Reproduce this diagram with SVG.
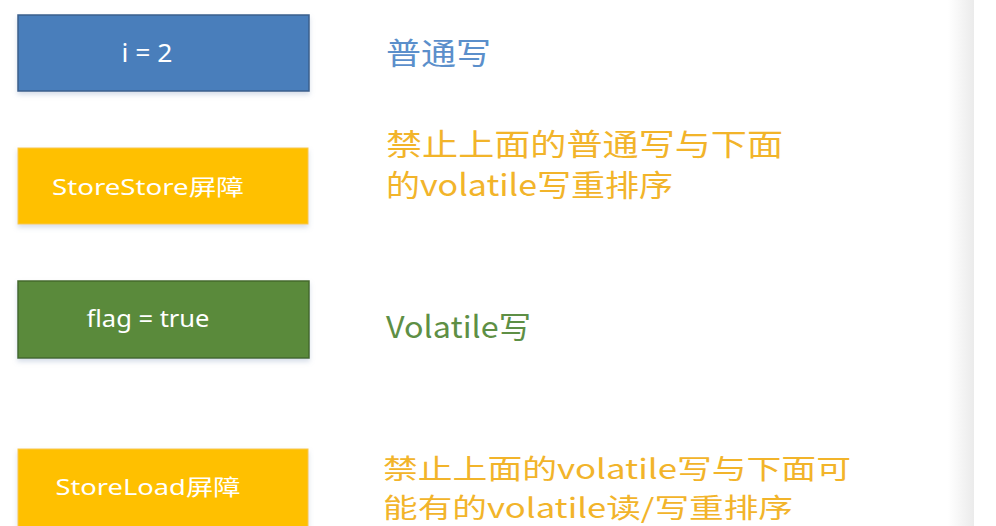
<svg xmlns="http://www.w3.org/2000/svg" width="996" height="526" viewBox="0 0 996 526">
<defs>
<linearGradient id="edge" x1="0" y1="0" x2="1" y2="0">
<stop offset="0" stop-color="#ffffff"/>
<stop offset="1" stop-color="#ebebeb"/>
</linearGradient>
<filter id="sh" x="-5%" y="-10%" width="110%" height="130%">
<feDropShadow dx="0" dy="3" stdDeviation="2.5" flood-color="#8aa0c0" flood-opacity="0.35"/>
</filter>
</defs>
<style>
.box{filter:url(#sh)}
.lbl{font-family:"Noto Sans","Noto Sans CJK SC",sans-serif;font-size:22px;fill:#ffffff;text-anchor:middle}
.note{font-family:"Noto Sans CJK SC","Noto Sans",sans-serif;font-size:30px}
.blue{fill:#5b8fcb}
.orange{fill:#f2b42a}
.green{fill:#5e8f45}
.tight{font-size:26.8px}
</style>
<rect width="996" height="526" fill="#ffffff"/>
<rect x="948" y="0" width="26" height="526" fill="url(#edge)"/>
<g id="connectors"></g>
<g id="node-i2">
<rect class="box" x="18" y="15" width="291" height="76" fill="#4a7ebb" stroke="#3a5f8c" stroke-width="1.5"/>
<text class="lbl" x="147" y="62" style="font-size:25px" textLength="51" lengthAdjust="spacingAndGlyphs">i = 2</text>
</g>
<g id="node-storestore">
<rect class="box" x="18" y="148" width="290" height="76" fill="#ffc000" stroke="#f7c84a" stroke-width="1"/>
<text class="lbl" x="148" y="195" textLength="192" lengthAdjust="spacingAndGlyphs">StoreStore屏障</text>
</g>
<g id="node-flag">
<rect class="box" x="18" y="281" width="291" height="77" fill="#5a8a3a" stroke="#44692b" stroke-width="1.5"/>
<text class="lbl" x="148" y="327" style="font-size:23px" textLength="123" lengthAdjust="spacingAndGlyphs">flag = true</text>
</g>
<g id="node-storeload">
<rect class="box" x="18" y="449" width="290" height="80" fill="#ffc000" stroke="#f7c84a" stroke-width="1"/>
<text class="lbl" x="148" y="495" textLength="185" lengthAdjust="spacingAndGlyphs">StoreLoad屏障</text>
</g>
<g id="note-normal">
<text class="note blue" x="386" y="64" textLength="105" lengthAdjust="spacingAndGlyphs">普通写</text>
</g>
<g id="note-storestore">
<text class="note orange" x="386" y="155" textLength="397" lengthAdjust="spacingAndGlyphs">禁止上面的普通写与下面</text>
<text class="note orange" x="386" y="196" textLength="287" lengthAdjust="spacingAndGlyphs">的volatile写重排序</text>
</g>
<g id="note-volatile">
<text class="note green" x="386" y="338" textLength="145" lengthAdjust="spacingAndGlyphs">Volatile写</text>
</g>
<g id="note-storeload">
<text class="note orange tight" x="383" y="479" textLength="468" lengthAdjust="spacingAndGlyphs">禁止上面的volatile写与下面可</text>
<text class="note orange tight" x="383" y="518" textLength="410" lengthAdjust="spacingAndGlyphs">能有的volatile读/写重排序</text>
</g>
</svg>
